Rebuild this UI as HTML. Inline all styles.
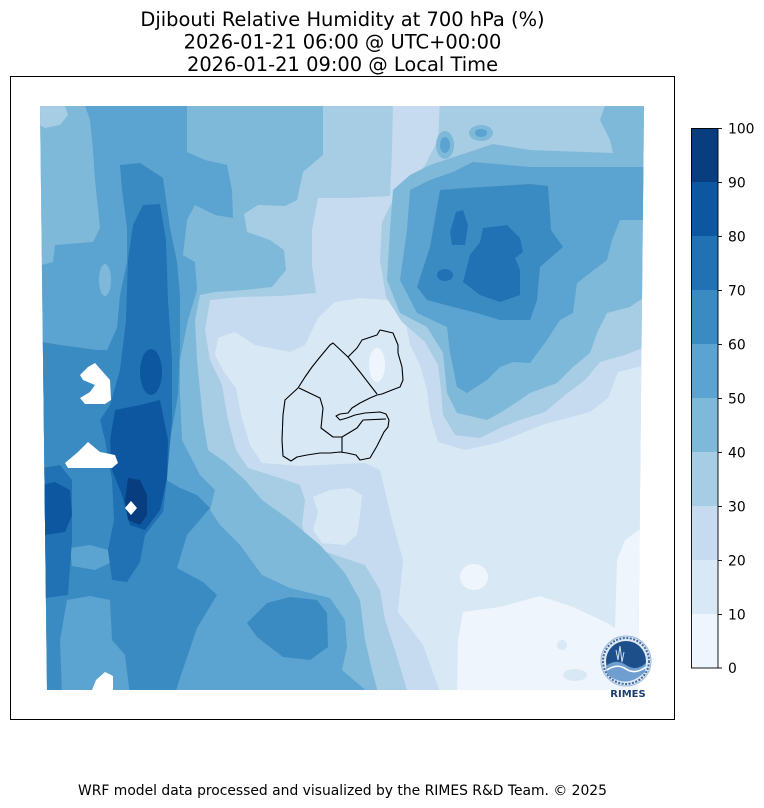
<!DOCTYPE html>
<html><head><meta charset="utf-8"><style>html,body{margin:0;padding:0;background:#fff}svg{display:block}</style></head>
<body>
<svg width="764" height="808" viewBox="0 0 764 808" xmlns="http://www.w3.org/2000/svg" font-family="'DejaVu Sans','Liberation Sans',sans-serif">
<rect width="764" height="808" fill="#fff"/>
<text x="342.5" y="26" font-size="19.44" text-anchor="middle" fill="#000">Djibouti Relative Humidity at 700 hPa (%)</text>
<text x="342.5" y="48.5" font-size="19.44" text-anchor="middle" fill="#000">2026-01-21 06:00 @ UTC+00:00</text>
<text x="342.5" y="71" font-size="19.44" text-anchor="middle" fill="#000">2026-01-21 09:00 @ Local Time</text>
<defs><clipPath id="m"><path d="M40,106 L644,106 L638,690 L47,690 Z"/></clipPath></defs>
<g clip-path="url(#m)">
<rect x="30" y="100" width="620" height="600" fill="#c6dbef"/>
<!-- c1 -->
<path fill="#d9e8f5" d="M218,338 L235,332 L255,345 L290,352 L305,345 L318,318 L335,302 L360,298 L385,300 L400,303 L405,318 L410,345 L420,365 L427,390 L430,415 L438,442 L465,450 L500,442 L545,424 L590,412 L608,398 L618,372 L650,364 L650,700 L443,700 L423,645 L398,612 L403,560 L392,520 L380,470 L365,463 L300,466 L262,463 L250,445 L241,415 L236,388 L224,372 L215,355 Z"/>
<path fill="#d9e8f5" d="M313,497 L330,490 L350,488 L362,495 L360,515 L357,535 L345,545 L322,543 L313,530 L318,512 Z"/>
<!-- c0 -->
<path fill="#eef5fc" d="M457,700 L458,640 L463,612 L500,607 L540,596 L573,607 L607,623 L615,628 L617,560 L625,540 L650,522 L650,700 Z"/>
<ellipse cx="474" cy="577" rx="14" ry="13" fill="#eef5fc"/>
<ellipse cx="377" cy="365" rx="8" ry="17" fill="#eef5fc"/>
<ellipse cx="575" cy="675" rx="12" ry="6" fill="#d9e8f5"/>
<ellipse cx="562" cy="645" rx="5" ry="5" fill="#d9e8f5"/>
<!-- c3 -->
<path fill="#a6cde4" d="M30,100 L393,100 L392,150 L390,196 L350,198 L318,198 L312,230 L312,265 L316,293 L280,296 L240,297 L210,300 L205,330 L210,360 L222,385 L228,420 L236,450 L248,468 L280,478 L300,485 L305,500 L302,525 L308,545 L335,555 L365,565 L380,590 L385,620 L395,650 L410,700 L30,700 Z"/>
<path fill="#a6cde4" d="M440,100 L650,100 L650,345 L625,355 L600,362 L585,380 L565,395 L545,412 L520,420 L500,428 L480,438 L455,435 L443,415 L441,390 L438,365 L425,342 L402,322 L386,297 L380,260 L382,222 L395,196 L413,180 L425,165 L438,140 Z"/>
<!-- c4 -->
<path fill="#7fb9da" d="M30,100 L323,100 L323,155 L303,172 L297,200 L285,206 L258,205 L244,214 L247,232 L270,240 L284,250 L286,270 L272,287 L245,290 L215,292 L200,295 L195,320 L197,360 L200,390 L203,420 L208,450 L225,462 L245,480 L262,500 L290,520 L320,545 L345,573 L360,600 L365,640 L372,670 L380,700 L30,700 Z"/>
<path fill="#7fb9da" d="M460,155 L493,144 L530,150 L613,153 L610,140 L600,120 L607,100 L650,100 L650,293 L630,307 L607,313 L597,333 L590,353 L573,367 L557,383 L530,393 L520,400 L500,413 L487,420 L457,413 L447,393 L443,353 L427,327 L400,313 L387,280 L390,230 L393,190 L410,175 L430,165 Z"/>
<ellipse cx="445" cy="145" rx="9" ry="14" fill="#7fb9da"/>
<ellipse cx="481" cy="133" rx="12" ry="8" fill="#7fb9da"/>
<path fill="#a6cde4" d="M40,106 L65,106 L68,115 L60,125 L45,128 L40,125 Z"/>
<!-- c5 -->
<path fill="#5ba3d0" d="M83,100 L187,100 L187,152 L205,160 L227,165 L232,190 L233,218 L215,215 L195,205 L187,220 L183,255 L195,262 L197,290 L188,320 L180,360 L180,395 L182,440 L200,475 L215,490 L210,510 L220,525 L240,545 L262,575 L290,588 L330,598 L345,620 L347,647 L342,670 L377,700 L30,700 L30,268 L53,262 L55,245 L93,242 L100,228 L95,180 L93,150 L90,120 Z"/>
<path fill="#5ba3d0" d="M453,172 L473,162 L530,167 L650,167 L650,220 L620,220 L612,240 L607,260 L590,273 L577,283 L573,313 L560,320 L547,340 L530,363 L513,362 L500,367 L487,380 L467,393 L457,387 L450,353 L447,327 L417,313 L400,280 L407,230 L410,190 L430,180 Z"/>
<ellipse cx="445" cy="145" rx="5" ry="8" fill="#5ba3d0"/>
<ellipse cx="481" cy="133" rx="6" ry="4" fill="#5ba3d0"/>
<ellipse cx="105" cy="280" rx="6" ry="16" fill="#7fb9da"/>
<!-- c6 -->
<path fill="#3b8bc3" d="M120,165 L140,163 L163,178 L170,228 L177,262 L180,295 L180,345 L178,395 L170,440 L163,478 L180,488 L197,495 L210,508 L187,535 L177,568 L203,582 L217,595 L197,628 L180,678 L173,700 L30,700 L30,340 L60,345 L97,350 L107,350 L117,328 L120,295 L127,262 L127,228 L122,190 Z"/>
<path fill="#3b8bc3" d="M267,603 L290,597 L317,600 L327,613 L328,647 L310,660 L283,657 L257,637 L247,623 Z"/>
<path fill="#3b8bc3" d="M467,188 L530,184 L548,186 L551,230 L563,247 L540,267 L537,300 L530,320 L500,320 L477,313 L453,307 L427,300 L417,287 L430,247 L440,190 Z"/>
<path fill="#5ba3d0" d="M70,548 L90,545 L108,550 L112,562 L95,570 L72,566 Z"/>
<path fill="#5ba3d0" d="M67,600 L90,596 L110,600 L112,640 L125,655 L130,695 L62,695 L60,640 Z"/>
<!-- c7 -->
<path fill="#2171b5" d="M143,205 L160,204 L166,240 L168,300 L172,360 L172,420 L167,478 L163,512 L145,535 L140,562 L127,582 L112,580 L108,550 L114,520 L112,480 L105,440 L100,420 L110,405 L120,370 L126,320 L128,260 L133,225 Z"/>
<path fill="#2171b5" d="M30,470 L60,465 L72,480 L72,540 L68,595 L30,600 Z"/>
<path fill="#2171b5" d="M483,228 L507,225 L520,238 L523,252 L515,258 L520,270 L520,295 L500,302 L480,295 L463,282 L470,255 L480,242 Z"/>
<path fill="#2171b5" d="M456,212 L463,210 L468,225 L465,245 L452,245 L450,232 Z"/>
<ellipse cx="445" cy="275" rx="8" ry="6" fill="#2171b5"/>
<!-- c8 -->
<path fill="#0d57a1" d="M115,410 L140,405 L160,400 L168,440 L167,478 L160,510 L145,530 L130,525 L122,495 L112,470 L110,440 Z"/>
<ellipse cx="151" cy="372" rx="11" ry="23" fill="#0d57a1"/>
<path fill="#0d57a1" d="M30,488 L55,482 L70,490 L72,515 L65,532 L45,535 L30,535 Z"/>
<!-- c9 -->
<path fill="#083d7f" d="M128,478 L140,480 L147,495 L147,515 L140,525 L128,520 L125,500 Z"/>
<!-- white NaN -->
<path fill="#fff" d="M88,367 L95,363 L110,380 L111,400 L105,404 L85,404 L80,398 L90,392 L95,385 L83,380 L80,375 Z"/>
<path fill="#fff" d="M65,463 L78,452 L88,442 L100,452 L115,455 L118,463 L112,468 L68,468 Z"/>
<path fill="#fff" d="M125,508 L131,501 L137,508 L131,515 Z"/>
<path fill="#fff" d="M92,690 L96,680 L105,672 L113,676 L113,690 Z"/>
</g>
<!-- Djibouti borders -->
<g fill="none" stroke="#000" stroke-width="1.1" stroke-linejoin="round">
<path d="M333,343 L348,357 L357,348 L362,340 L377,335 L380,330 L393,333 L398,345 L398,353 L402,367 L403,380 L400,387 L392,390 L382,394 L377,395 L370,398 L360,403 L352,408 L348,413 L340,414 L336,416 L340,420 L347,418 L355,415 L365,413 L380,412 L386,414 L389,420 L388,427 L384,432 L377,446 L370,458 L360,460 L356,455 L347,453 L340,452 L330,453 L320,453 L307,455 L297,457 L291,461 L283,456 L282,440 L283,415 L285,400 L298,388 L305,377 L312,367 L320,357 L330,345 Z"/>
<path d="M348,357 L360,372 L370,385 L377,394"/>
<path d="M299,388 L320,398 L323,408"/>
<path d="M323,408 L321,428 L333,437 L342,437 L357,428 L363,420"/>
<path d="M342,437 L342,452"/>
<path d="M363,420 L386,419"/>
</g>
<rect x="10.5" y="76.5" width="664" height="643" fill="none" stroke="#000" stroke-width="1"/>
<!-- colorbar -->
<rect x="691" y="128" width="27" height="54" fill="#083d7f"/>
<rect x="691" y="182" width="27" height="54" fill="#0d57a1"/>
<rect x="691" y="236" width="27" height="54" fill="#2171b5"/>
<rect x="691" y="290" width="27" height="54" fill="#3b8bc3"/>
<rect x="691" y="344" width="27" height="54" fill="#5ba3d0"/>
<rect x="691" y="398" width="27" height="54" fill="#7fb9da"/>
<rect x="691" y="452" width="27" height="54" fill="#a6cde4"/>
<rect x="691" y="506" width="27" height="54" fill="#c6dbef"/>
<rect x="691" y="560" width="27" height="54" fill="#d9e8f5"/>
<rect x="691" y="614" width="27" height="54" fill="#eef5fc"/>
<rect x="691.5" y="128.5" width="26.5" height="539.5" fill="none" stroke="#000" stroke-width="0.9"/>
<g stroke="#000" stroke-width="0.9">
<line x1="718" y1="128.5" x2="722" y2="128.5"/><line x1="718" y1="182.5" x2="722" y2="182.5"/>
<line x1="718" y1="236.5" x2="722" y2="236.5"/><line x1="718" y1="290.5" x2="722" y2="290.5"/>
<line x1="718" y1="344.5" x2="722" y2="344.5"/><line x1="718" y1="398.5" x2="722" y2="398.5"/>
<line x1="718" y1="452.5" x2="722" y2="452.5"/><line x1="718" y1="506.5" x2="722" y2="506.5"/>
<line x1="718" y1="560.5" x2="722" y2="560.5"/><line x1="718" y1="614.5" x2="722" y2="614.5"/>
<line x1="718" y1="668" x2="722" y2="668"/>
</g>
<g font-size="13.89" fill="#000">
<text x="728" y="133.5">100</text><text x="728" y="187.5">90</text><text x="728" y="241.5">80</text>
<text x="728" y="295.5">70</text><text x="728" y="349.5">60</text><text x="728" y="403.5">50</text>
<text x="728" y="457.5">40</text><text x="728" y="511.5">30</text><text x="728" y="565.5">20</text>
<text x="728" y="619.5">10</text><text x="728" y="673">0</text>
</g>
<!-- logo -->
<circle cx="626" cy="661" r="25" fill="#dfe8f3" stroke="#9bb8d6" stroke-width="1"/>
<circle cx="626" cy="661" r="23" fill="none" stroke="#3d6aa3" stroke-width="2" stroke-dasharray="2 1.5"/>
<circle cx="626" cy="661" r="20" fill="#1d4f8a"/>
<path d="M606,666 Q616,658 626,665 T646,663 L645,672 Q626,690 607,674 Z" fill="#6f9fd0"/>
<path d="M607,670 Q617,663 626,669 T646,667" fill="none" stroke="#fff" stroke-width="1.5"/>
<path d="M616,650 L618,660 L620,646 L622,662 L624,652" fill="none" stroke="#cfe0f2" stroke-width="1"/>
<text x="628" y="697" font-size="10" font-weight="bold" text-anchor="middle" fill="#1f3d70">RIMES</text>
<text x="342.5" y="795" font-size="13.89" text-anchor="middle" fill="#000">WRF model data processed and visualized by the RIMES R&amp;D Team. © 2025</text>
</svg>
</body></html>
